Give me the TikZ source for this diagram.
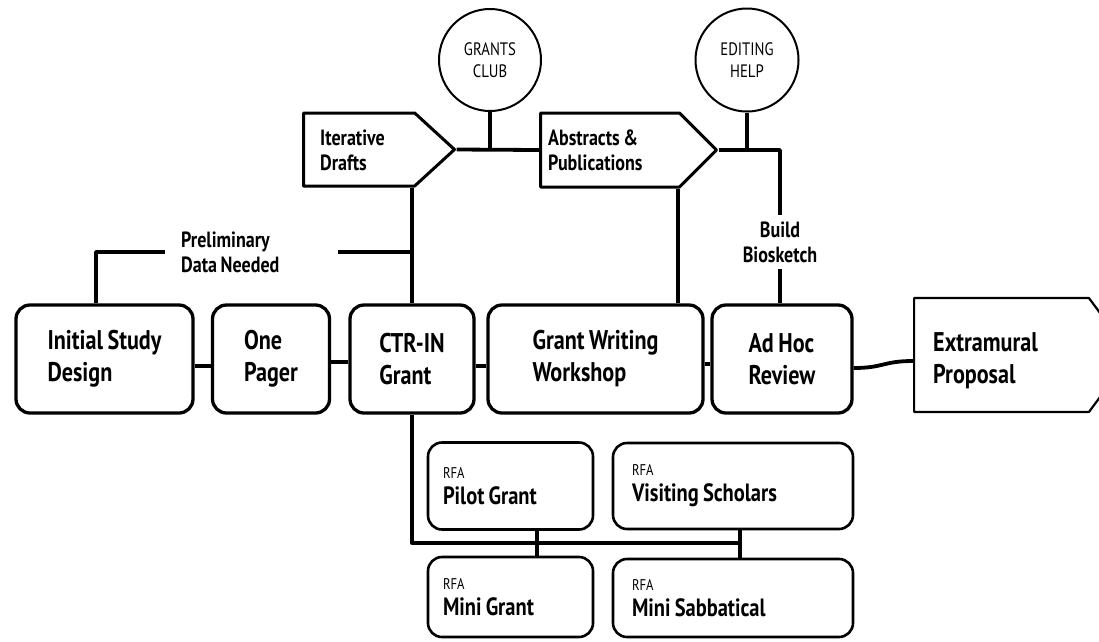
\documentclass[tikz,border=0pt]{standalone}
\usepackage{fontspec}
\setmainfont{PT Sans}[FakeStretch=0.82, WordSpace=0.8]
\usetikzlibrary{shapes.symbols}
\newcommand{\rfasmallfont}{\fontsize{15.5}{16}\selectfont\mdseries}
\begin{document}
\begin{tikzpicture}[x=1pt,y=-1pt,
  fbig/.style={font=\fontsize{27}{32}\selectfont\bfseries},
  fmed/.style={font=\fontsize{22}{25}\selectfont\bfseries},
  fsmall/.style={font=\fontsize{18}{22}\selectfont},
  box/.style={draw, line width=3.3pt, rounded corners=14pt, align=left, inner sep=0pt, fbig},
  sig/.style={draw, shape=signal, signal to=east, line width=3pt, line join=round, inner sep=0pt, anchor=west},
  bubble/.style={draw, circle, line width=2pt, inner sep=0pt, align=center, fsmall},
  rfa/.style={draw, line width=2.6pt, rounded corners=14pt, align=flush left, inner sep=0pt, font=\fontsize{25}{26}\selectfont\bfseries},
  conn/.style={line width=3.8pt, line join=round}
]
\useasboundingbox (0,0) rectangle (1099,641);
\clip (0,0) rectangle (1099,641);

% main row
\node[box, minimum width=177pt, minimum height=108pt] (isd) at (104.5,359) {Initial Study\\Design};
\node[box, minimum width=117pt, minimum height=108pt] (op) at (271,359) {One\\Pager};
\node[box, minimum width=124pt, minimum height=108pt] (ctr) at (412,359) {CTR-IN\\Grant};
\node[box, minimum width=215pt, minimum height=108pt] (gww) at (595.5,359) {Grant Writing\\Workshop};
\node[box, minimum width=140pt, minimum height=108pt] (ahr) at (782,359) {Ad Hoc\\Review};
\node[sig, line width=2.2pt, minimum width=217pt, minimum height=114pt, signal pointer angle=107] (ext) at (913,355) {};
\node[fbig, align=left, anchor=west, inner sep=0pt] (extt) at (933,361) {Extramural\\Proposal};

% top row
\node[sig, minimum width=151pt, minimum height=73pt, signal pointer angle=85] (itd) at (302,149.5) {};
\node[fmed, align=left, anchor=west, inner sep=0pt] (itdt) at (320,150) {Iterative\\Drafts};
\node[sig, minimum width=176pt, minimum height=74pt, signal pointer angle=90] (abs) at (539,150) {};
\node[fmed, align=left, anchor=west, inner sep=0pt] (abst) at (548,150) {Abstracts \&\\Publications};
\node[bubble, minimum size=102pt] (gc) at (490,60) {GRANTS\\CLUB};
\node[bubble, minimum size=103pt] (eh) at (747,60) {EDITING\\HELP};

% labels
\node[fmed, align=flush left, anchor=west, inner xsep=16pt, inner ysep=0pt, text width=141pt] (pdn) at (165,252) {Preliminary\\Data Needed};
\node[fmed, align=center, inner xsep=2pt, inner ysep=6pt] (bb) at (780,242) {Build\\Biosketch};

% RFA boxes
\node[rfa, minimum width=165pt, minimum height=87pt, text width=135pt] (pg) at (510.5,486) {{\rfasmallfont RFA}\\Pilot Grant};
\node[rfa, minimum width=240pt, minimum height=86pt, text width=202pt] (vs) at (733,486) {{\rfasmallfont RFA}\\Visiting Scholars};
\node[rfa, minimum width=165pt, minimum height=80pt, text width=135pt] (mg) at (510.5,597) {{\rfasmallfont RFA}\\Mini Grant};
\node[rfa, minimum width=240pt, minimum height=78pt, text width=202pt] (ms) at (733,598) {{\rfasmallfont RFA}\\Mini Sabbatical};

% connectors main row
\draw[conn] (isd.east |- 0,366) -- (op.west |- 0,366);
\draw[conn] (op.east |- 0,362) -- (ctr.west |- 0,362);
\draw[conn] (ctr.east |- 0,366) -- (gww.west |- 0,366);
\draw[conn] (gww.east |- 0,364) -- (ahr.west |- 0,364);
\draw[conn] (ahr.east |- 0,368) .. controls +(30,0) and +(-30,0) .. (ext.west |- 0,361);

% top connectors
\draw[conn] (itd.east) -- (abs.west);
\draw[conn] (gc.south) -- (gc.south |- itd.east);
\draw[conn] (eh.south) -- (eh.south |- abs.east);
\draw[conn] (abs.east) -| (bb.north);
\draw[conn] (bb.south) -- (bb.south |- ahr.north);
\draw[conn] (itd.south -| ctr.north) -- (ctr.north);
\draw[conn] (abs.south -| 678,0) -- (gww.north -| 678,0);
\draw[conn] (isd.north -| 96,0) |- (pdn.west);
\draw[conn] (pdn.east) -- (ctr.north |- pdn.east);

% bottom connectors
\coordinate (bend) at (740,543);
\draw[conn] (ctr.south) |- (bend);
\draw[conn] (pg.south -| 537,0) -- (mg.north -| 537,0);
\draw[conn] (vs.south -| bend) -- (ms.north -| bend);
\end{tikzpicture}
\end{document}
